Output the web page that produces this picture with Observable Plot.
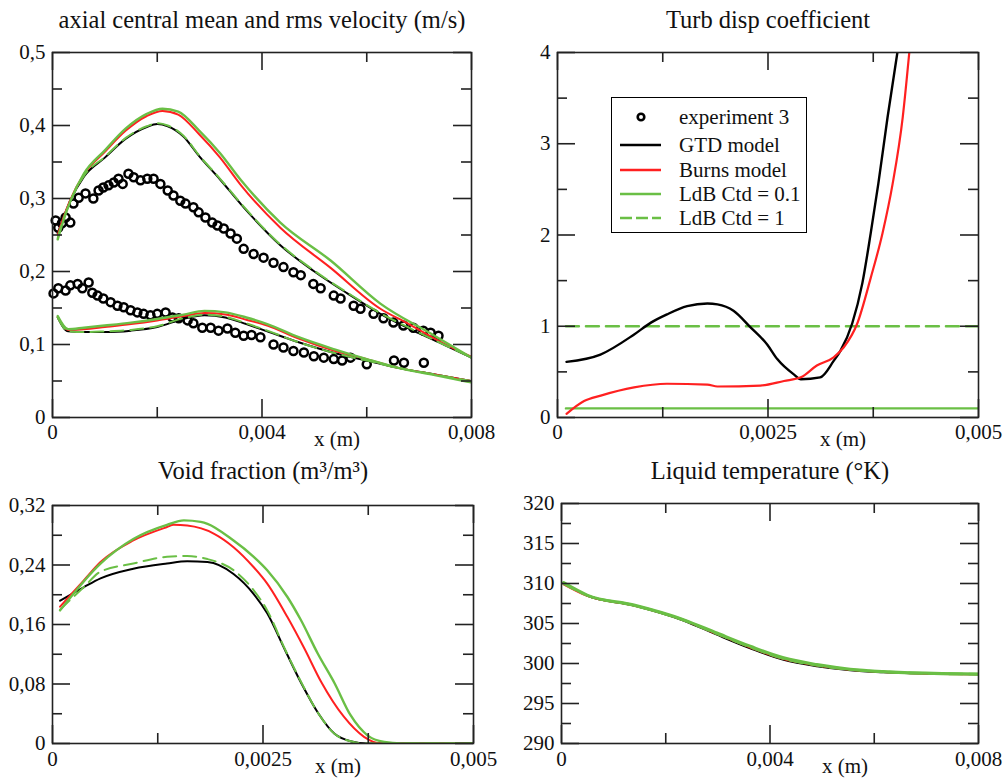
<!DOCTYPE html>
<html><head><meta charset="utf-8">
<script src="https://cdn.jsdelivr.net/npm/d3@7"></script>
<script src="https://cdn.jsdelivr.net/npm/@observablehq/plot@0.6"></script>
<style>
body{margin:0;background:#fff;}
#wrap{position:relative;width:1006px;height:778px;overflow:hidden;font-family:"Liberation Serif",serif;background:#fff;}
.panel{position:absolute;}
#legend{position:absolute;left:611px;top:97px;width:196px;height:136px;box-sizing:border-box;border:1.5px solid #000;background:#fff;}
.row{position:absolute;left:0;width:190px;height:24px;}
.row svg{position:absolute;left:8px;top:0;}
.row span{position:absolute;left:67px;top:0;line-height:24px;font-size:21px;color:#111;white-space:nowrap;}
</style></head>
<body><div id="wrap"><div id="legend"></div></div>
<script>
// ---------- data ----------
const BLACK = "#000", RED = "#ff2020", GREEN = "#6abf45";
const seriesNames = ["experiment 3","GTD model","Burns model","LdB Ctd = 0.1","LdB Ctd = 1"];

// Panel 1: axial central mean and rms velocity
const velXTicks = [0,0.004,0.008], velXMinor = [0.002,0.006];
const velYTicks = [0,0.1,0.2,0.3,0.4,0.5], velYMinor = [0.05,0.15,0.25,0.35,0.45];
const velExpMean = [[0.00006,0.270],[0.00011,0.260],[0.00018,0.266],[0.00025,0.274],[0.00034,0.267],[0.0004,0.293],[0.0005,0.301],[0.00063,0.307],[0.00078,0.300],[0.00088,0.311],[0.00097,0.315],[0.00107,0.318],[0.00117,0.322],[0.00126,0.327],[0.00134,0.320],[0.00145,0.334],[0.00155,0.329],[0.00168,0.325],[0.00181,0.327],[0.00193,0.327],[0.00206,0.320],[0.0022,0.311],[0.00231,0.304],[0.00244,0.297],[0.00254,0.293],[0.00269,0.288],[0.00279,0.281],[0.00292,0.274],[0.00305,0.267],[0.00315,0.263],[0.00327,0.259],[0.0034,0.252],[0.00352,0.245],[0.00365,0.231],[0.00384,0.224],[0.00403,0.219],[0.00422,0.212],[0.00441,0.206],[0.0046,0.199],[0.00474,0.195],[0.00498,0.183],[0.00512,0.177],[0.00537,0.167],[0.0055,0.163],[0.00575,0.153],[0.00588,0.149],[0.00613,0.142],[0.00632,0.136],[0.00651,0.130],[0.0067,0.126],[0.00689,0.123],[0.00708,0.119],[0.00722,0.116],[0.00737,0.112]];
const velExpRms = [[0.00002,0.170],[0.00011,0.177],[0.00025,0.174],[0.00034,0.181],[0.00048,0.183],[0.00057,0.177],[0.00069,0.185],[0.00076,0.171],[0.00086,0.167],[0.00097,0.163],[0.00111,0.158],[0.00124,0.153],[0.00136,0.151],[0.00149,0.147],[0.00162,0.144],[0.00174,0.142],[0.00187,0.140],[0.002,0.142],[0.00216,0.144],[0.00229,0.137],[0.00241,0.136],[0.00258,0.133],[0.00269,0.129],[0.00286,0.123],[0.00302,0.123],[0.00317,0.119],[0.00334,0.122],[0.00349,0.116],[0.00365,0.112],[0.0038,0.113],[0.00397,0.110],[0.00422,0.100],[0.00441,0.096],[0.0046,0.091],[0.0048,0.089],[0.00499,0.084],[0.00518,0.082],[0.00537,0.080],[0.00553,0.078],[0.00569,0.082],[0.006,0.073],[0.00652,0.078],[0.00671,0.075],[0.00709,0.075]];
const velMeanGTD = [[0.0001,0.252],[0.0002,0.272],[0.00034,0.297],[0.0006,0.330],[0.001,0.356],[0.0014,0.382],[0.0018,0.398],[0.002,0.402],[0.0022,0.399],[0.0025,0.385],[0.0028,0.358],[0.0032,0.326],[0.0036,0.292],[0.00435,0.236],[0.00498,0.201],[0.00563,0.170],[0.00626,0.142],[0.00689,0.119],[0.0075,0.099],[0.008,0.082]];
const velMeanBurns = [[0.0001,0.250],[0.0002,0.272],[0.00034,0.298],[0.0006,0.333],[0.001,0.364],[0.0014,0.393],[0.0018,0.413],[0.0021,0.420],[0.0024,0.415],[0.0028,0.388],[0.0032,0.356],[0.0036,0.318],[0.00435,0.260],[0.00531,0.205],[0.00626,0.149],[0.00678,0.129],[0.0074,0.104],[0.008,0.083]];
const velMeanLdB01 = [[0.0001,0.244],[0.0002,0.268],[0.00034,0.296],[0.0006,0.334],[0.001,0.366],[0.0014,0.396],[0.0018,0.416],[0.0021,0.423],[0.0024,0.419],[0.0028,0.393],[0.0032,0.362],[0.0036,0.325],[0.00435,0.267],[0.00531,0.215],[0.00626,0.156],[0.00722,0.115],[0.008,0.082]];
const velMeanLdB1 = [[0.0001,0.246],[0.0002,0.270],[0.00034,0.296],[0.0006,0.331],[0.001,0.357],[0.0014,0.383],[0.0018,0.399],[0.002,0.403],[0.0022,0.400],[0.0025,0.386],[0.0028,0.359],[0.0032,0.327],[0.0036,0.293],[0.00435,0.237],[0.00498,0.202],[0.00563,0.171],[0.00626,0.143],[0.00689,0.120],[0.0075,0.099],[0.008,0.082]];
const rmsX = [0.0001,0.0003,0.0006,0.001,0.0015,0.002,0.0025,0.0029,0.0033,0.0037,0.0041,0.0047,0.0054,0.006,0.0066,0.0073,0.008];
const velRmsGTD   = [0.137,0.118,0.117,0.117,0.119,0.124,0.135,0.140,0.137,0.128,0.118,0.103,0.088,0.078,0.068,0.059,0.050];
const velRmsBurns = [0.138,0.120,0.121,0.124,0.128,0.133,0.139,0.143,0.141,0.134,0.126,0.108,0.091,0.080,0.068,0.059,0.050];
const velRmsLdB01 = [0.139,0.121,0.123,0.126,0.130,0.135,0.141,0.146,0.144,0.137,0.128,0.110,0.093,0.080,0.068,0.058,0.048];
const velRmsLdB1  = [0.137,0.118,0.117,0.118,0.120,0.125,0.136,0.141,0.138,0.129,0.119,0.103,0.088,0.078,0.068,0.059,0.050];

// Panel 2: turbulent dispersion coefficient
const tdXTicks = [0,0.0025,0.005], tdXMinor = [0.00125,0.00375];
const tdYTicks = [0,1,2,3,4], tdYMinor = [0.5,1.5,2.5,3.5];
const tdGTD = [[0.000107,0.61],[0.00051,0.69],[0.00091,0.91],[0.00111,1.04],[0.0013,1.13],[0.00154,1.22],[0.00178,1.25],[0.0019,1.24],[0.00209,1.17],[0.00229,0.99],[0.00249,0.80],[0.00261,0.64],[0.00281,0.47],[0.00289,0.42],[0.00312,0.44],[0.00328,0.62],[0.00336,0.73],[0.0035,1.03],[0.00362,1.47],[0.00372,2.02],[0.00381,2.56],[0.00392,3.29],[0.00404,4.02]];
const tdBurns = [[0.000107,0.04],[0.000316,0.18],[0.000514,0.24],[0.000909,0.33],[0.0013,0.37],[0.00178,0.36],[0.0019,0.34],[0.00241,0.35],[0.00269,0.40],[0.00289,0.44],[0.00308,0.57],[0.00328,0.66],[0.0034,0.77],[0.00356,1.03],[0.00372,1.53],[0.00386,2.02],[0.00398,2.56],[0.0041,3.29],[0.00418,4.02]];
const tdLdB01 = [[0.0001,0.1],[0.005,0.1]];
const tdLdB1 = [[0.0001,1],[0.005,1]];

// Panel 3: void fraction
const vfXTicks = [0,0.0025,0.005], vfXMinor = [0.00125,0.00375];
const vfYTicks = [0,0.08,0.16,0.24,0.32], vfYMinor = [0.04,0.12,0.2,0.28];
const vfGTD = [[0.00009,0.192],[0.00037,0.21],[0.00057,0.222],[0.00096,0.235],[0.00136,0.242],[0.0016,0.245],[0.00184,0.244],[0.00215,0.228],[0.00239,0.201],[0.00255,0.175],[0.00276,0.126],[0.00296,0.080],[0.00316,0.040],[0.00335,0.013],[0.00354,0.003],[0.00374,0],[0.005,0]];
const vfBurns = [[0.00009,0.184],[0.00037,0.219],[0.00057,0.244],[0.00096,0.273],[0.00136,0.291],[0.00144,0.294],[0.0016,0.293],[0.00192,0.282],[0.00215,0.264],[0.00239,0.237],[0.00255,0.215],[0.00279,0.17],[0.00299,0.128],[0.00319,0.083],[0.00346,0.036],[0.0037,0.009],[0.0039,0],[0.005,0]];
const vfLdB01 = [[0.00009,0.179],[0.00057,0.242],[0.00096,0.275],[0.00136,0.294],[0.00156,0.300],[0.00176,0.298],[0.00215,0.273],[0.00239,0.251],[0.00255,0.233],[0.00279,0.197],[0.00295,0.166],[0.00315,0.121],[0.00335,0.081],[0.00354,0.038],[0.00374,0.011],[0.00394,0.002],[0.00414,0],[0.005,0]];
const vfLdB1 = [[0.00009,0.180],[0.00037,0.21],[0.00057,0.231],[0.00096,0.242],[0.00136,0.251],[0.0016,0.252],[0.00184,0.248],[0.00215,0.233],[0.00239,0.206],[0.00255,0.179],[0.00276,0.127],[0.00296,0.081],[0.00316,0.040],[0.00335,0.013],[0.00354,0.003],[0.00374,0],[0.005,0]];

// Panel 4: liquid temperature
const ltXTicks = [0,0.004,0.008], ltXMinor = [0.002,0.006];
const ltYTicks = [290,295,300,305,310,315,320], ltYMinor = [292.5,297.5,302.5,307.5,312.5,317.5];
const ltX = [0.00004,0.00049,0.00139,0.00235,0.00298,0.00362,0.00426,0.0049,0.00554,0.00618,0.00714,0.008];
const ltGTD   = [310.0,308.50,307.25,305.35,303.60,301.90,300.45,299.65,299.15,298.90,298.72,298.66];
const ltBurns = [309.9,308.45,307.25,305.40,303.70,302.00,300.55,299.75,299.22,298.95,298.73,298.66];
const ltLdB01 = [310.1,308.55,307.30,305.45,303.80,302.15,300.70,299.85,299.28,298.98,298.76,298.68];
const ltLdB1  = [310.0,308.52,307.28,305.40,303.72,302.05,300.60,299.78,299.24,298.96,298.74,298.67];

// ---------- helpers ----------
const fmt = d => String(d).replace(".", ",");
const FONT = "Liberation Serif";
const zip = (xs, ys) => xs.map((x, i) => [x, ys[i]]);

function tickMarks(fw, fh, xMaj, xMin, yMaj, yMin) {
  const M = 18, m = 10, s = {stroke: "#222", strokeWidth: 1.6};
  return [
    Plot.tickY(yMaj, {y: d => d, insetRight: fw - M, ...s}),
    Plot.tickY(yMaj, {y: d => d, insetLeft: fw - M, ...s}),
    Plot.tickY(yMin, {y: d => d, insetRight: fw - m, ...s}),
    Plot.tickY(yMin, {y: d => d, insetLeft: fw - m, ...s}),
    Plot.tickX(xMaj, {x: d => d, insetTop: fh - M, ...s}),
    Plot.tickX(xMaj, {x: d => d, insetBottom: fh - M, ...s}),
    Plot.tickX(xMin, {x: d => d, insetTop: fh - m, ...s}),
    Plot.tickX(xMin, {x: d => d, insetBottom: fh - m, ...s})
  ];
}

function panel(cfg) {
  const {left, top, width, height, mL, mR, mT, mB, xDomain, yDomain, xMaj, xMin, yMaj, yMin, title, titleDy, xLabDy, xTickPad, marks} = cfg;
  const fw = width - mL - mR, fh = height - mT - mB;
  const chart = Plot.plot({
    width, height, marginLeft: mL, marginRight: mR, marginTop: mT, marginBottom: mB,
    x: {domain: xDomain}, y: {domain: yDomain},
    style: {fontFamily: FONT, fontSize: "21px", background: "transparent", color: "#111", overflow: "visible"},
    marks: [
      ...marks,
      ...tickMarks(fw, fh, xMaj, xMin, yMaj, yMin),
      Plot.frame({stroke: "#222", strokeWidth: 1.6}),
      Plot.axisY({ticks: yMaj, tickSize: 0, tickPadding: 7, tickFormat: fmt, label: null, fontSize: 21, fill: "#111"}),
      Plot.axisX({ticks: xMaj, tickSize: 0, tickPadding: xTickPad, tickFormat: fmt, label: null, fontSize: 21, fill: "#111"}),
      Plot.text([title], {frameAnchor: "top", dy: titleDy, fontSize: 24.5, lineAnchor: "middle", fill: "#111"}),
      Plot.text(["x (m)"], {frameAnchor: "bottom", dx: 75, dy: xLabDy, fontSize: 21, lineAnchor: "middle", fill: "#111"})
    ]
  });
  chart.classList.add("panel");
  chart.style.left = left + "px";
  chart.style.top = top + "px";
  document.getElementById("wrap").appendChild(chart);
}

const L = (data, stroke, extra = {}) => Plot.line(data, {x: d => d[0], y: d => d[1], stroke, strokeWidth: 2, clip: true, curve: "monotone-x", ...extra});
const DASH = {strokeDasharray: "13,7"};
const dotOpts = {x: d => d[0], y: d => d[1], r: 4, stroke: BLACK, strokeWidth: 2.5, fill: "none"};

// ---------- panels ----------
panel({
  left: 0, top: 0, width: 500, height: 450, mL: 52, mR: 29, mT: 52, mB: 33,
  xDomain: [0, 0.008], yDomain: [0, 0.5], xMaj: velXTicks, xMin: velXMinor, yMaj: velYTicks, yMin: velYMinor,
  title: "axial central mean and rms velocity (m/s)", titleDy: -32, xLabDy: 22, xTickPad: 7,
  marks: [
    Plot.dot(velExpMean, dotOpts),
    Plot.dot(velExpRms, dotOpts),
    L(velMeanGTD, BLACK), L(velMeanBurns, RED), L(velMeanLdB01, GREEN, {strokeWidth: 2.4}), L(velMeanLdB1, GREEN, DASH),
    L(zip(rmsX, velRmsGTD), BLACK), L(zip(rmsX, velRmsBurns), RED), L(zip(rmsX, velRmsLdB01), GREEN, {strokeWidth: 2.4}), L(zip(rmsX, velRmsLdB1), GREEN, DASH)
  ]
});

panel({
  left: 500, top: 0, width: 506, height: 450, mL: 57, mR: 28, mT: 52, mB: 33,
  xDomain: [0, 0.005], yDomain: [0, 4], xMaj: tdXTicks, xMin: tdXMinor, yMaj: tdYTicks, yMin: tdYMinor,
  title: "Turb disp coefficient", titleDy: -32, xLabDy: 22, xTickPad: 7,
  marks: [
    L(tdLdB01, GREEN, {strokeWidth: 2.4, curve: "linear"}), L(tdLdB1, GREEN, {...DASH, strokeWidth: 2.4, curve: "linear"}),
    L(tdGTD, BLACK, {strokeWidth: 2.4}), L(tdBurns, RED, {strokeWidth: 2.2})
  ]
});

panel({
  left: 0, top: 450, width: 500, height: 328, mL: 52, mR: 27, mT: 55, mB: 35,
  xDomain: [0, 0.005], yDomain: [0, 0.32], xMaj: vfXTicks, xMin: vfXMinor, yMaj: vfYTicks, yMin: vfYMinor,
  title: "Void fraction (m³/m³)", titleDy: -34, xLabDy: 23, xTickPad: 8,
  marks: [
    L(vfGTD, BLACK), L(vfBurns, RED),
    L(vfLdB01, GREEN, {strokeWidth: 2.4}), L(vfLdB1, GREEN, DASH)
  ]
});

panel({
  left: 500, top: 450, width: 506, height: 328, mL: 61, mR: 28, mT: 53, mB: 35,
  xDomain: [0, 0.008], yDomain: [290, 320], xMaj: ltXTicks, xMin: ltXMinor, yMaj: ltYTicks, yMin: ltYMinor,
  title: "Liquid temperature (°K)", titleDy: -32, xLabDy: 23, xTickPad: 8,
  marks: [
    L(zip(ltX, ltGTD), BLACK), L(zip(ltX, ltBurns), RED),
    L(zip(ltX, ltLdB01), GREEN, {strokeWidth: 3.2}), L(zip(ltX, ltLdB1), GREEN, {strokeWidth: 2.6, ...DASH})
  ]
});

// ---------- legend ----------
const legend = document.getElementById("legend");
const rowTops = [7, 35, 60, 84, 108];
const swatches = [
  `<svg width="50" height="24"><circle cx="21" cy="12" r="3.3" fill="none" stroke="${BLACK}" stroke-width="2.6"/></svg>`,
  `<svg width="50" height="24"><line x1="0" y1="12" x2="41" y2="12" stroke="${BLACK}" stroke-width="2.6"/></svg>`,
  `<svg width="50" height="24"><line x1="0" y1="12" x2="41" y2="12" stroke="${RED}" stroke-width="2.6"/></svg>`,
  `<svg width="50" height="24"><line x1="0" y1="12" x2="41" y2="12" stroke="${GREEN}" stroke-width="2.6"/></svg>`,
  `<svg width="50" height="24"><line x1="0" y1="12" x2="41" y2="12" stroke="${GREEN}" stroke-width="2.6" stroke-dasharray="12,4"/></svg>`
];
seriesNames.forEach((name, i) => {
  const row = document.createElement("div");
  row.className = "row";
  row.style.top = rowTops[i] + "px";
  row.innerHTML = swatches[i] + `<span>${name}</span>`;
  legend.appendChild(row);
});
</script></body></html>
